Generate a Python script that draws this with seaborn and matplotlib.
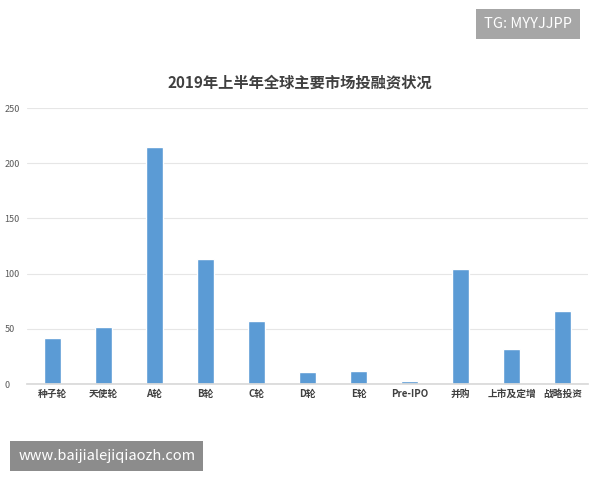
import matplotlib
matplotlib.use("Agg")
import matplotlib.pyplot as plt
import seaborn as sns
import pandas as pd

# 数据
categories = ['种子轮', '天使轮', 'A轮', 'B轮', 'C轮', 'D轮', 'E轮', 'Pre-IPO', '并购', '上市及定增', '战略投资']
values = [42, 52, 215, 113, 57, 11, 12, 2.5, 104, 32, 66]
yticks = [0, 50, 100, 150, 200, 250]

sns.set_theme(style="white")
plt.rcParams['font.family'] = ['Noto Sans CJK SC', 'DejaVu Sans']
plt.rcParams['axes.unicode_minus'] = False

fig = plt.figure(figsize=(6, 4.8), dpi=100)
ax = fig.add_axes([0.045, 0.2, 0.935, 0.575])

df = pd.DataFrame({'cat': categories, 'val': values})
sns.barplot(data=df, x='cat', y='val', color='#5B9BD5', saturation=1, width=0.32, ax=ax)

ax.set_ylim(0, 250)
ax.set_yticks(yticks)
ax.grid(axis='y', color='#e6e6e6', linewidth=0.8)
ax.set_axisbelow(True)
for s in ['top', 'right', 'left']:
    ax.spines[s].set_visible(False)
ax.spines['bottom'].set_color('#d9d9d9')
ax.set_xlabel('')
ax.set_ylabel('')
ax.tick_params(axis='y', labelsize=6.5, colors='#595959', length=0, pad=-2)
ax.tick_params(axis='x', labelsize=7, colors='#404040', length=0)
for lab in ax.get_xticklabels():
    lab.set_fontweight('bold')
for lab in ax.get_yticklabels():
    lab.set_horizontalalignment('left')
    lab.set_x(-0.045)

fig.text(0.5, 0.818, '2019年上半年全球主要市场投融资状况', ha='center', fontsize=11,
         fontweight='bold', color='#404040')

# 水印
fig.text(0.88, 0.95, 'TG: MYYJJPP', ha='center', va='center', fontsize=10.5, color='white',
         bbox=dict(boxstyle='square,pad=0.55', fc='#a6a6a6', ec='none'))
fig.text(0.178, 0.05, 'www.baijialejiqiaozh.com', ha='center', va='center', fontsize=10.5, color='white',
         bbox=dict(boxstyle='square,pad=0.55', fc='#8c8c8c', ec='none'))

fig.savefig('out.png', dpi=100)
